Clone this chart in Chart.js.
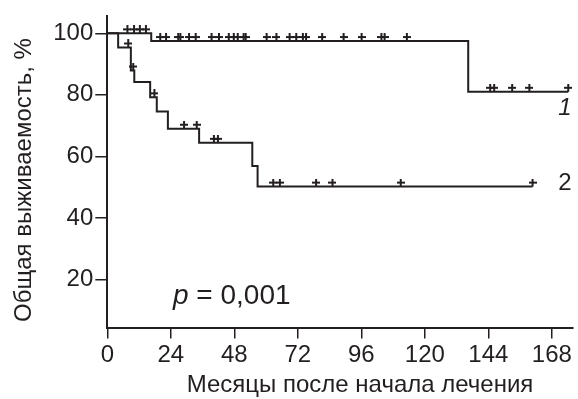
<!DOCTYPE html>
<html>
<head>
<meta charset="utf-8">
<script src="https://cdn.jsdelivr.net/npm/chart.js@4"></script>
<style>
  html, body { margin: 0; padding: 0; background: #fff; }
  #wrap { width: 578px; height: 399px; position: relative; }
</style>
</head>
<body>
<div id="wrap"><canvas id="km"></canvas></div>
<script>
// Kaplan-Meier steps (month, survival %)
const months1 = [0, 16.6, 136.4, 174.2];
const survival1 = [100, 97.5, 81.0, 81.0];
const months2 = [0, 4.1, 8.9, 10.2, 16.2, 18.7, 22.9, 34.7, 54.8, 56.8, 160.7];
const survival2 = [100, 95.4, 87.9, 84.2, 79.2, 74.6, 69.0, 64.4, 56.9, 50.2, 50.2];

// censored observations (months)
const censored1 = [7.6, 10.1, 12.3, 14.6, 20.0, 22.2, 26.8, 27.6, 30.9, 33.4, 39.4, 42.2,
  45.9, 47.8, 49.3, 51.5, 52.3, 60.2, 63.9, 68.9, 71.4, 73.9, 75.1, 81.2, 89.3, 96.1,
  103.6, 104.8, 113.2, 144.7, 146.2, 153.0, 159.5, 174.2];
const censored2 = [7.9, 9.8, 17.8, 29.0, 33.8, 40.3, 41.8, 62.7, 65.2, 78.9, 85.1, 110.9, 160.7];

const xTicks = [0, 24, 48, 72, 96, 120, 144, 168];
const yTicks = [20, 40, 60, 80, 100];

const INK = '#231f20';
const FONT = '"Liberation Sans", Arial, Helvetica, sans-serif';

function survivalAt(times, surv, t) {
  let v = surv[0];
  for (let i = 0; i < times.length; i++) {
    if (times[i] <= t) v = surv[i];
  }
  return v;
}

function toPoints(xs, ys) {
  return xs.map((x, i) => ({ x: x, y: ys[i] }));
}

// "+" mark sitting just above the curve
function makeCross() {
  const c = document.createElement('canvas');
  c.width = 8;
  c.height = 16;
  const g = c.getContext('2d');
  g.fillStyle = INK;
  g.fillRect(0, 3, 8, 2);
  g.fillRect(3, 0, 2, 8);
  return c;
}
const cross = makeCross();

const labelsPlugin = {
  id: 'labels',
  afterDraw(chart) {
    const ctx = chart.ctx;
    ctx.save();
    ctx.fillStyle = INK;

    // axis titles
    ctx.font = '24px ' + FONT;
    ctx.textAlign = 'center';
    ctx.textBaseline = 'middle';
    ctx.fillText('Месяцы после начала лечения', 360, 385);
    ctx.save();
    ctx.translate(24, 180);
    ctx.rotate(-Math.PI / 2);
    ctx.fillText('Общая выживаемость, %', 0, 0);
    ctx.restore();

    // curve numbers
    ctx.font = 'italic 24px ' + FONT;
    ctx.fillText('1', 565, 108);
    ctx.font = '24px ' + FONT;
    ctx.fillText('2', 565, 183);

    // p-value
    ctx.textAlign = 'left';
    ctx.textBaseline = 'alphabetic';
    ctx.font = 'italic 28px ' + FONT;
    ctx.fillText('p', 173, 304);
    const w = ctx.measureText('p').width;
    ctx.font = '28px ' + FONT;
    ctx.fillText(' = 0,001', 173 + w, 304);
    ctx.restore();
  }
};

new Chart(document.getElementById('km'), {
  type: 'scatter',
  data: {
    datasets: [
      {
        label: '1',
        data: toPoints(months1, survival1),
        showLine: true,
        stepped: 'before',
        borderColor: INK,
        borderWidth: 2,
        pointRadius: 0,
        clip: false
      },
      {
        label: '2',
        data: toPoints(months2, survival2),
        showLine: true,
        stepped: 'before',
        borderColor: INK,
        borderWidth: 2,
        pointRadius: 0,
        clip: false
      },
      {
        label: 'censored 1',
        data: censored1.map(t => ({ x: t, y: survivalAt(months1, survival1, t) })),
        pointStyle: cross,
        clip: false
      },
      {
        label: 'censored 2',
        data: censored2.map(t => ({ x: t, y: survivalAt(months2, survival2, t) })),
        pointStyle: cross,
        clip: false
      }
    ]
  },
  options: {
    responsive: true,
    maintainAspectRatio: false,
    animation: false,
    layout: { padding: { top: 11.7, right: 0, left: 0, bottom: 0 } },
    scales: {
      x: {
        type: 'linear',
        min: 0,
        max: 176,
        afterBuildTicks: (scale) => { scale.ticks = xTicks.map(v => ({ value: v })); },
        afterFit: (scale) => { scale.height = 71.5; },
        grid: { drawOnChartArea: false, drawTicks: true, tickLength: 11, color: INK, lineWidth: 1.5 },
        border: { display: true, color: INK, width: 2 },
        ticks: { color: INK, font: { family: FONT, size: 24 }, padding: 2, maxRotation: 0 }
      },
      y: {
        type: 'linear',
        min: 4.4,
        max: 105.5,
        afterBuildTicks: (scale) => { scale.ticks = yTicks.map(v => ({ value: v })); },
        afterFit: (scale) => { scale.width = 107.3; },
        grid: { drawOnChartArea: false, drawTicks: true, tickLength: 12, color: INK, lineWidth: 1.5 },
        border: { display: true, color: INK, width: 2 },
        ticks: { color: INK, font: { family: FONT, size: 24 }, padding: 2 }
      }
    },
    plugins: {
      legend: { display: false },
      tooltip: { enabled: false }
    }
  },
  plugins: [labelsPlugin]
});
</script>
</body>
</html>
